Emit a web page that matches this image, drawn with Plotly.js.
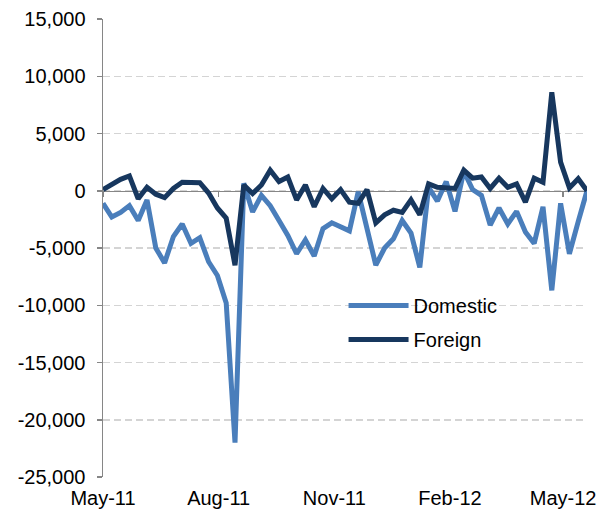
<!DOCTYPE html>
<html>
<head>
<meta charset="utf-8">
<script src="https://cdn.plot.ly/plotly-3.0.1.min.js"></script>
<style>
  html, body { margin: 0; padding: 0; background: #ffffff; }
  #chart { width: 607px; height: 512px; }
</style>
</head>
<body>
<div id="chart"></div>
<script>
// Weekly dates (categories)
const weeks = [
  '2011-05-04','2011-05-11','2011-05-18','2011-05-25',
  '2011-06-01','2011-06-08','2011-06-15','2011-06-22','2011-06-29',
  '2011-07-06','2011-07-13','2011-07-20','2011-07-27',
  '2011-08-03','2011-08-10','2011-08-17','2011-08-24','2011-08-31',
  '2011-09-07','2011-09-14','2011-09-21','2011-09-28',
  '2011-10-05','2011-10-12','2011-10-19','2011-10-26',
  '2011-11-02','2011-11-09','2011-11-16','2011-11-23','2011-11-30',
  '2011-12-07','2011-12-14','2011-12-21','2011-12-28',
  '2012-01-04','2012-01-11','2012-01-18','2012-01-25',
  '2012-02-01','2012-02-08','2012-02-15','2012-02-22','2012-02-29',
  '2012-03-07','2012-03-14','2012-03-21','2012-03-28',
  '2012-04-04','2012-04-11','2012-04-18','2012-04-25',
  '2012-05-02','2012-05-09','2012-05-16','2012-05-23'
];

const domestic = [
  -1100, -2300, -1900, -1300, -2600, -800, -5000, -6300, -4000, -2900,
  -4600, -4100, -6200, -7400, -9800, -22000, 650, -1850, -400, -1300,
  -2600, -3900, -5500, -4300, -5700, -3300, -2800, -3200, -3500, -100,
  -3300, -6500, -5000, -4200, -2600, -3700, -6700, 300, -900, 800,
  -1800, 1700, 100, -400, -3000, -1500, -2900, -1800, -3600, -4600,
  -1400, -8700, -1100, -5500, -2700, 0
];

const foreign = [
  100, 600, 1000, 1300, -700, 300, -300, -600, 200, 750,
  750, 700, -200, -1500, -2400, -6500, 500, -250, 500, 1800,
  800, 1200, -800, 500, -1400, 200, -700, 100, -1000, -1100,
  100, -2800, -2100, -1700, -1900, -800, -2100, 600, 300, 300,
  200, 1800, 1100, 1200, 200, 1100, 300, 600, -1000, 1100,
  750, 8600, 2500, 250, 1050, 0
];

const xTickVals = ['2011-05-04','2011-08-04','2011-11-04','2012-02-04','2012-05-04'];
const xTickText = ['May-11','Aug-11','Nov-11','Feb-12','May-12'];
const yTickVals = [-25000,-20000,-15000,-10000,-5000,0,5000,10000,15000];
const yTickText = ['-25,000','-20,000','-15,000','-10,000','-5,000','0','5,000','10,000','15,000'];

const FONT = '"Liberation Sans", Arial, sans-serif';
const AXIS_GRAY = '#868686';

const traces = [
  { x: weeks, y: domestic, name: 'Domestic', type: 'scatter', mode: 'lines',
    legendgroup: 'd', line: { color: '#4a7ebb', width: 5 }, hoverinfo: 'skip' },
  { x: weeks, y: foreign, name: 'Foreign', type: 'scatter', mode: 'lines',
    legendgroup: 'f', line: { color: '#17375e', width: 5 }, hoverinfo: 'skip' },
  { x: [], y: [], xaxis: 'x2', yaxis: 'y', type: 'scatter', mode: 'lines',
    showlegend: false, hoverinfo: 'skip' }
];

const xRange = ['2011-05-04', '2012-05-23'];

const layout = {
  width: 607, height: 512,
  margin: { l: 103, r: 20, t: 19, b: 35, pad: 0 },
  paper_bgcolor: '#ffffff', plot_bgcolor: '#ffffff',
  font: { family: FONT, size: 20, color: '#000000' },
  showlegend: true,
  legend: {
    x: 0.497, y: 0.417, xanchor: 'left', yanchor: 'top',
    bgcolor: 'rgba(0,0,0,0)', borderwidth: 0,
    font: { family: FONT, size: 20, color: '#000000' },
    itemwidth: 60, traceorder: 'grouped', tracegroupgap: 5
  },
  xaxis: {
    type: 'date', range: xRange,
    tickmode: 'array', tickvals: xTickVals, ticktext: xTickText,
    showgrid: false, zeroline: false, showline: false,
    ticks: 'outside', ticklen: 3, tickcolor: 'rgba(0,0,0,0)',
    tickfont: { family: FONT, size: 20, color: '#000000' }
  },
  xaxis2: {
    type: 'date', range: xRange, overlaying: 'x', anchor: 'free', position: 0.625,
    tickmode: 'array', tickvals: xTickVals, ticktext: xTickText,
    showticklabels: false, showgrid: false, zeroline: false,
    showline: true, linecolor: AXIS_GRAY, linewidth: 1.5,
    ticks: 'outside', ticklen: 5, tickcolor: AXIS_GRAY, tickwidth: 1.5,
    layer: 'below traces'
  },
  yaxis: {
    range: [-25000, 15000],
    tickmode: 'array', tickvals: yTickVals, ticktext: yTickText,
    showgrid: true, gridcolor: '#d4d4d4', gridwidth: 1.5, griddash: '7px,4px',
    zeroline: false,
    showline: true, linecolor: AXIS_GRAY, linewidth: 1.5,
    ticks: 'outside', ticklen: 5, tickcolor: AXIS_GRAY, tickwidth: 1.5,
    ticklabelstandoff: 7,
    tickfont: { family: FONT, size: 20, color: '#000000' }
  }
};

Plotly.newPlot('chart', traces, layout, { staticPlot: true, displayModeBar: false });
</script>
</body>
</html>
